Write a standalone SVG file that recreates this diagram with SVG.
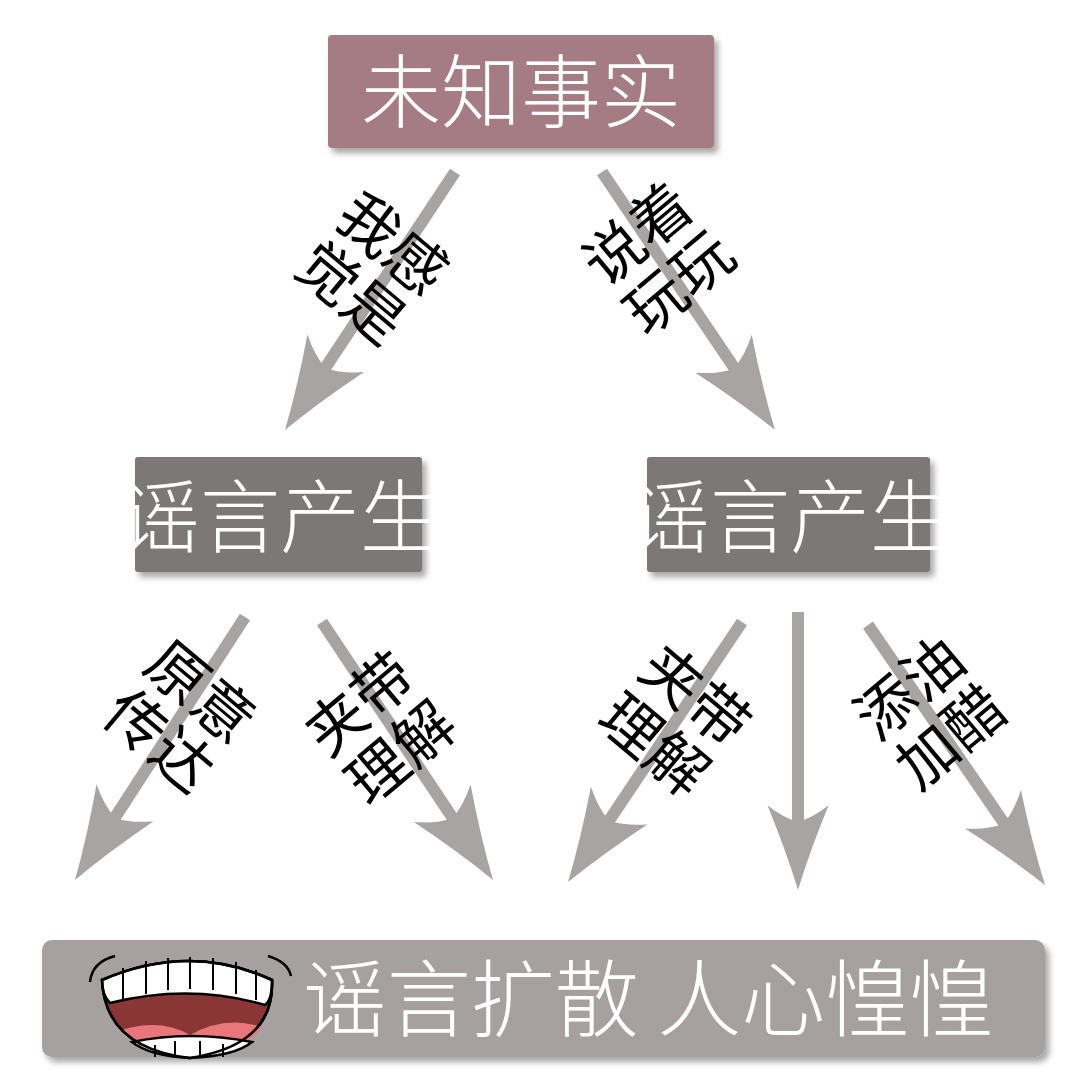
<svg xmlns="http://www.w3.org/2000/svg" width="1080" height="1080" viewBox="0 0 1080 1080">
<defs>
<filter id="sh" x="-10%" y="-10%" width="125%" height="130%"><feDropShadow dx="4" dy="5" stdDeviation="3" flood-color="#000" flood-opacity="0.35"/></filter>
<path id="head" d="M0,0 Q-42,-13 -92,-34 Q-78,-16 -74,0 Q-78,16 -92,34 Q-42,13 0,0Z"/>
</defs>
<style>
.box text{fill:#fff;font-family:"Noto Sans CJK SC",sans-serif;font-weight:300}
.lbl{font-family:"Noto Sans CJK SC",sans-serif;font-size:60px;fill:#000;text-anchor:middle}
.sh{stroke:#a8a4a4;stroke-width:12}
.hd{fill:#a8a4a4}
</style>
<rect width="1080" height="1080" fill="#fff"/>
<g id="connectors">
<line class="sh" x1="455" y1="172" x2="300" y2="406"/><use href="#head" class="hd" transform="translate(285,430) rotate(123.5)"/>
<line class="sh" x1="602" y1="172" x2="760" y2="406"/><use href="#head" class="hd" transform="translate(775,430) rotate(56)"/>
<line class="sh" x1="245" y1="617" x2="90" y2="856"/><use href="#head" class="hd" transform="translate(75,880) rotate(123)"/>
<line class="sh" x1="322" y1="622" x2="478" y2="856"/><use href="#head" class="hd" transform="translate(493,880) rotate(56.5)"/>
<line class="sh" x1="742" y1="622" x2="584" y2="858"/><use href="#head" class="hd" transform="translate(568,882) rotate(123.8)"/>
<line class="sh" x1="798" y1="612" x2="798" y2="860"/><use href="#head" class="hd" transform="translate(798,890) rotate(90) scale(0.92,0.9)"/>
<line class="sh" x1="868" y1="625" x2="1030" y2="861"/><use href="#head" class="hd" transform="translate(1045,885) rotate(55.5)"/>
</g>
<g id="labels">
<text class="lbl" transform="translate(372,268) rotate(40)"><tspan x="0" y="-10">我感</tspan><tspan x="0" y="54">觉是</tspan></text>
<text class="lbl" transform="translate(658,258) rotate(-40)"><tspan x="0" y="-10">说着</tspan><tspan x="0" y="54">玩玩</tspan></text>
<text class="lbl" transform="translate(180,716) rotate(40)"><tspan x="0" y="-10">原意</tspan><tspan x="0" y="54">传达</tspan></text>
<text class="lbl" transform="translate(380,728) rotate(-40)"><tspan x="0" y="-10">夹带</tspan><tspan x="0" y="54">理解</tspan></text>
<text class="lbl" transform="translate(675,720) rotate(40)"><tspan x="0" y="-10">夹带</tspan><tspan x="0" y="54">理解</tspan></text>
<text class="lbl" transform="translate(930,712) rotate(-40)"><tspan x="0" y="-10">添油</tspan><tspan x="0" y="54">加醋</tspan></text>
</g>
<g id="top" class="box">
<rect x="328" y="35" width="386" height="113" rx="4" fill="#a57c84" filter="url(#sh)"/>
<text x="521" y="121" font-size="80" text-anchor="middle">未知事实</text>
</g>
<g id="mid-left" class="box">
<rect x="135" y="457" width="287" height="115" rx="3" fill="#7d7878" filter="url(#sh)"/>
<text x="280" y="546" font-size="80" text-anchor="middle">谣言产生</text>
</g>
<g id="mid-right" class="box">
<rect x="647" y="457" width="283" height="115" rx="3" fill="#7d7878" filter="url(#sh)"/>
<text x="790" y="546" font-size="80" text-anchor="middle">谣言产生</text>
</g>
<g id="bottom" class="box">
<rect x="42" y="940" width="1003" height="117" rx="10" fill="#a6a1a0" filter="url(#sh)"/>
<text x="648" y="1030" font-size="84" text-anchor="middle">谣言扩散 人心惶惶</text>
<g id="mouth" stroke="#000" stroke-width="2.5">
<path d="M90,982 Q92,962 115,956 M268,956 Q288,962 291,976" fill="none"/>
<path d="M102,980 Q190,942 272,980 Q275,1045 190,1058 Q105,1048 102,980Z" fill="#8b3636"/>
<path d="M102,980 Q190,942 272,980 Q272,1000 265,1005 Q190,983 110,1003 Q102,995 102,980Z" fill="#fff"/>
<path d="M122,1030 Q160,1018 190,1035 Q225,1015 262,1027 Q245,1052 190,1058 Q140,1052 122,1030Z" fill="#e8767a" stroke="none"/>
<path d="M132,1042 Q190,1030 252,1042 Q235,1056 190,1058 Q150,1056 132,1042Z" fill="#fff"/>
<path d="M102,980 Q190,942 272,980 Q275,1045 190,1058 Q105,1048 102,980Z" fill="none"/>
<path d="M123,968 V1000 M146,961 V994 M168,958 V990 M190,957 V989 M213,958 V990 M236,962 V994 M256,970 V1000 M155,1045 V1057 M175,1041 V1058 M200,1041 V1058 M223,1044 V1057" fill="none" stroke-width="2"/>
</g>
</g>
</svg>
